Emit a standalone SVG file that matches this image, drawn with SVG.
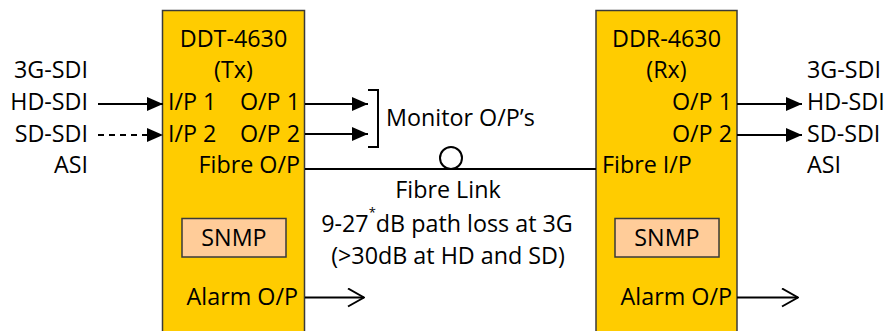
<svg xmlns="http://www.w3.org/2000/svg" width="885" height="331" viewBox="0 0 885 331">
<defs>
<marker id="ah" viewBox="0 0 16 14" refX="16" refY="7" markerWidth="16" markerHeight="14" markerUnits="userSpaceOnUse" orient="auto"><path d="M0,0 L16,7 L0,14 Z" fill="#000"/></marker>
<marker id="open" viewBox="0 0 18 20" refX="17" refY="10" markerWidth="18" markerHeight="20" markerUnits="userSpaceOnUse" orient="auto"><path d="M1,1 L17,10 L1,19" fill="none" stroke="#000" stroke-width="2"/></marker>
</defs>
<style>
text{font-family:"Open Sans","Liberation Sans",sans-serif;font-size:23.3px;fill:#000}
.box{fill:#FFCC00;stroke:#3a3a3a;stroke-width:1.5}
.snmp{fill:#FFCC99;stroke:#3a3a3a;stroke-width:1.5}
.c{text-anchor:middle}
.r{text-anchor:end}
.ln{stroke:#000;stroke-width:2;fill:none}
</style>
<rect width="885" height="331" fill="#fff"/>
<g id="tx">
<rect class="box" x="162.5" y="10.5" width="142" height="330"/>
<text class="c" x="233.5" y="47">DDT-4630</text>
<text class="c" x="233.5" y="78">(Tx)</text>
<text x="168" y="110">I/P 1</text>
<text class="r" x="300" y="110">O/P 1</text>
<text x="168" y="142">I/P 2</text>
<text class="r" x="300" y="142">O/P 2</text>
<text class="r" x="300" y="173">Fibre O/P</text>
<rect class="snmp" x="182" y="218.5" width="104" height="38.5"/>
<text class="c" x="234" y="246">SNMP</text>
<text class="r" x="298" y="305">Alarm O/P</text>
</g>
<g id="rx">
<rect class="box" x="596" y="10.5" width="141" height="330"/>
<text class="c" x="666.5" y="47">DDR-4630</text>
<text class="c" x="666.5" y="78">(Rx)</text>
<text class="r" x="732" y="110">O/P 1</text>
<text class="r" x="732" y="142">O/P 2</text>
<text x="602" y="173">Fibre I/P</text>
<rect class="snmp" x="615" y="218.5" width="104" height="38.5"/>
<text class="c" x="667" y="246">SNMP</text>
<text class="r" x="732" y="305">Alarm O/P</text>
</g>
<g id="inputs">
<text class="r" x="88" y="78">3G-SDI</text>
<text class="r" x="88" y="110">HD-SDI</text>
<text class="r" x="88" y="142">SD-SDI</text>
<text class="r" x="88" y="173">ASI</text>
</g>
<g id="outputs">
<text x="807" y="78">3G-SDI</text>
<text x="807" y="110">HD-SDI</text>
<text x="807" y="142">SD-SDI</text>
<text x="807" y="173">ASI</text>
</g>
<g id="monitor">
<path class="ln" d="M368,90 H378 V147 H368"/>
<text x="386" y="126">Monitor O/P’s</text>
</g>
<g id="fibre-link">
<circle cx="451" cy="158" r="11" fill="#fff" stroke="#000" stroke-width="2"/>
<text class="c" x="448" y="198">Fibre Link</text>
<text class="c" x="447" y="232">9-27<tspan font-size="13" dy="-15">*</tspan><tspan dy="15">dB path loss at 3G</tspan></text>
<text class="c" x="448" y="264">(&gt;30dB at HD and SD)</text>
</g>
<g id="connectors">
<line class="ln" x1="98" y1="104" x2="163" y2="104" marker-end="url(#ah)"/>
<line class="ln" x1="98" y1="135" x2="163" y2="135" stroke-dasharray="6,5" marker-end="url(#ah)"/>
<line class="ln" x1="305" y1="104" x2="368" y2="104" marker-end="url(#ah)"/>
<line class="ln" x1="305" y1="134" x2="368" y2="134" marker-end="url(#ah)"/>
<line class="ln" x1="305" y1="169" x2="596" y2="169"/>
<line class="ln" x1="305" y1="297.5" x2="364" y2="297.5" marker-end="url(#open)"/>
<line class="ln" x1="737" y1="104" x2="802" y2="104" marker-end="url(#ah)"/>
<line class="ln" x1="737" y1="135" x2="802" y2="135" marker-end="url(#ah)"/>
<line class="ln" x1="737" y1="297.5" x2="798" y2="297.5" marker-end="url(#open)"/>
</g>
</svg>
